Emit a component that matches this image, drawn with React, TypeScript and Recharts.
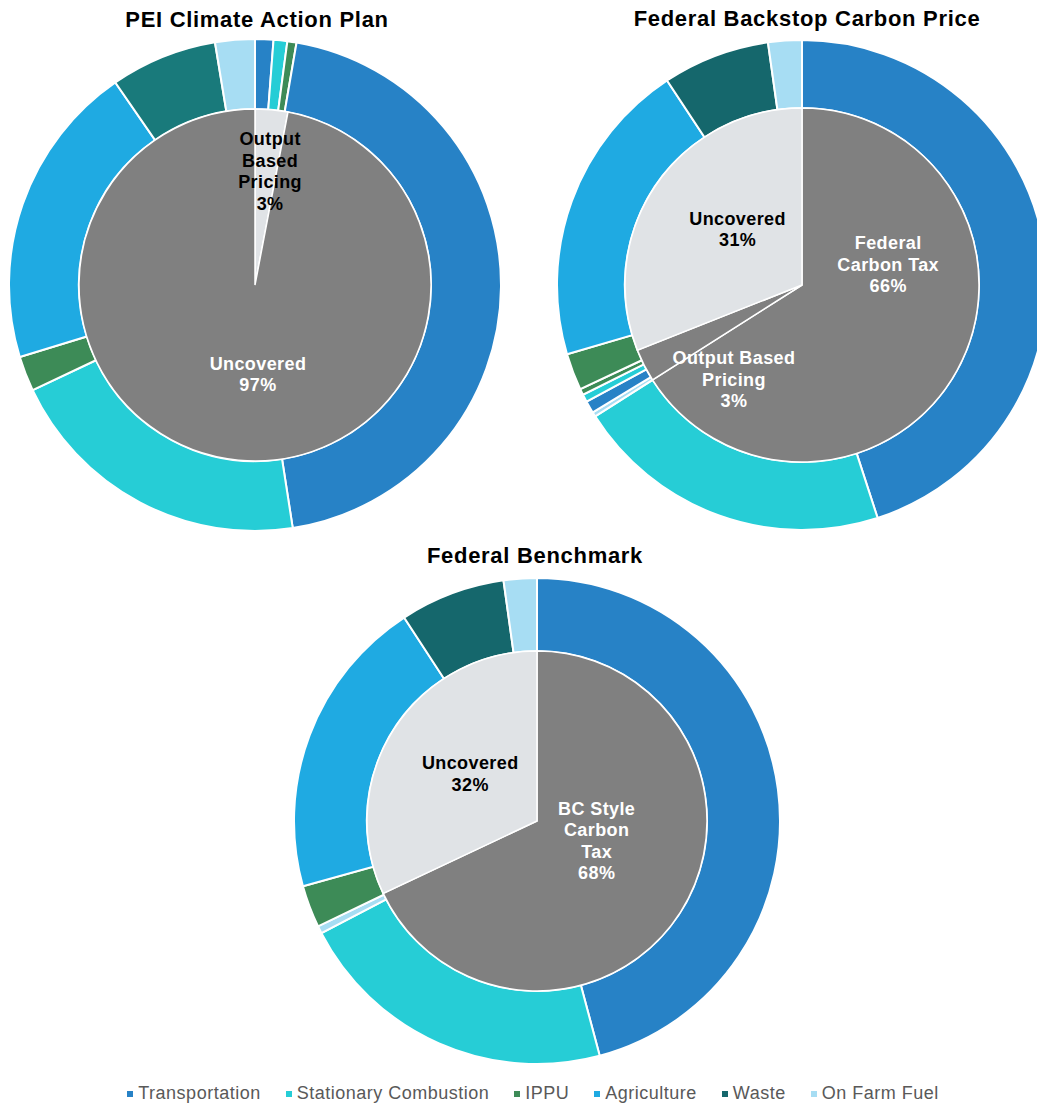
import React from 'react';
import { PieChart, Pie, Cell, Legend } from 'recharts';

const SECTORS = ['Transportation', 'Stationary Combustion', 'IPPU', 'Agriculture', 'Waste', 'On Farm Fuel'];
const SECTOR_COLORS = ['#2782C6', '#26CDD6', '#3D8B57', '#1FAAE2', '#15676C', '#A7DDF3'];

// PEI Climate Action Plan
const PEI_COVERAGE = ['Output Based Pricing', 'Uncovered'];
const PEI_COVERAGE_PCT = [3, 97];
const PEI_LABEL_LINES = [['Output', 'Based', 'Pricing'], ['Uncovered']];
const PEI_RING_SECTORS = ['Transportation', 'Stationary Combustion', 'IPPU', 'Transportation', 'Stationary Combustion', 'IPPU', 'Agriculture', 'Waste', 'On Farm Fuel'];
const PEI_RING_VALUES = [1.2, 0.9, 0.6, 44.8, 20.4, 2.3, 20.1, 7.0, 2.6];

// Federal Backstop Carbon Price
const FBCP_COVERAGE = ['Federal Carbon Tax', 'Output Based Pricing', 'Uncovered'];
const FBCP_COVERAGE_PCT = [66, 3, 31];
const FBCP_LABEL_LINES = [['Federal', 'Carbon Tax'], ['Output Based', 'Pricing'], ['Uncovered']];
const FBCP_RING_SECTORS = ['Transportation', 'Stationary Combustion', 'On Farm Fuel', 'Transportation', 'Stationary Combustion', 'IPPU', 'IPPU', 'Agriculture', 'Waste', 'On Farm Fuel'];
const FBCP_RING_VALUES = [44.6, 20.8, 0.3, 0.8, 0.5, 0.4, 2.4, 20.1, 7.0, 2.2];

// Federal Benchmark
const FB_COVERAGE = ['BC Style Carbon Tax', 'Uncovered'];
const FB_COVERAGE_PCT = [68, 32];
const FB_LABEL_LINES = [['BC Style', 'Carbon', 'Tax'], ['Uncovered']];
const FB_RING_SECTORS = ['Transportation', 'Stationary Combustion', 'On Farm Fuel', 'IPPU', 'Agriculture', 'Waste', 'On Farm Fuel'];
const FB_RING_VALUES = [45.8, 21.5, 0.5, 2.8, 20.1, 7.0, 2.2];

const DARK = '#808080';
const LIGHT = '#E0E3E6';
const FONT = '"Liberation Sans", Arial, sans-serif';

// label spot: fraction of pie radius, and turn (deg) from the slice middle
const PEI_LABEL_POS = [{ r: 0.65, turn: -2.2 }, { r: 0.51, turn: 7.3 }];
const FBCP_LABEL_POS = [{ r: 0.5, turn: 41.9 }, { r: 0.66, turn: 27.4 }, { r: 0.48, turn: -6.5 }];
const FB_LABEL_POS = [{ r: 0.37, turn: 14 }, { r: 0.48, turn: -2.7 }];

const makeLabel = (lines: string[][], pos: { r: number; turn: number }[], fills: string[]) => (props: any) => {
  const { cx, cy, midAngle, outerRadius, index, value } = props;
  const p = pos[index];
  const a = ((midAngle + p.turn) * Math.PI) / 180;
  const x = cx + outerRadius * p.r * Math.cos(a);
  const y = cy - outerRadius * p.r * Math.sin(a);
  const rows = [...lines[index], `${value}%`];
  const lh = 21.5;
  const y0 = y - ((rows.length - 1) * lh) / 2;
  return (
    <text
      x={x}
      y={y0}
      textAnchor="middle"
      dominantBaseline="central"
      fill={fills[index] === DARK ? '#fff' : '#000'}
      fontSize={18}
      fontWeight={700}
      letterSpacing={0.4}
      fontFamily={FONT}
    >
      {rows.map((t, i) => (
        <tspan key={i} x={x} y={y0 + i * lh}>
          {t}
        </tspan>
      ))}
    </text>
  );
};

interface DonutProps {
  left: number;
  top: number;
  width: number;
  height: number;
  cx: number;
  cy: number;
  pieR: number;
  ringR: number;
  coverage: string[];
  coveragePct: number[];
  coverageFill: string[];
  labelLines: string[][];
  labelPos: { r: number; turn: number }[];
  ringSectors: string[];
  ringValues: number[];
  sectorColors?: string[];
  legend?: boolean;
}

const Donut: React.FC<DonutProps> = (p) => {
  const colors = p.sectorColors || SECTOR_COLORS;
  const inner = p.coverage.map((name, i) => ({ name, value: p.coveragePct[i] }));
  const ring = p.ringSectors.map((name, i) => ({ name, value: p.ringValues[i] }));
  return (
    <div style={{ position: 'absolute', left: p.left, top: p.top }}>
      <PieChart width={p.width} height={p.height} margin={{ top: 0, right: 0, bottom: 0, left: 0 }}>
        <Pie
          data={ring}
          dataKey="value"
          cx={p.cx}
          cy={p.cy}
          startAngle={90}
          endAngle={-270}
          innerRadius={p.pieR}
          outerRadius={p.ringR}
          stroke="#fff"
          strokeWidth={2}
          isAnimationActive={false}
        >
          {ring.map((d, i) => (
            <Cell key={i} fill={colors[SECTORS.indexOf(d.name)]} />
          ))}
        </Pie>
        <Pie
          data={inner}
          dataKey="value"
          cx={p.cx}
          cy={p.cy}
          startAngle={90}
          endAngle={-270}
          outerRadius={p.pieR}
          stroke="#fff"
          strokeWidth={1.5}
          labelLine={false}
          label={makeLabel(p.labelLines, p.labelPos, p.coverageFill)}
          isAnimationActive={false}
        >
          {inner.map((d, i) => (
            <Cell key={i} fill={p.coverageFill[i]} />
          ))}
        </Pie>
        {p.legend && (
          <Legend
            verticalAlign="bottom"
            align="center"
            wrapperStyle={{ left: 0, width: p.width, bottom: 0 }}
            content={() => (
              <div
                style={{
                  display: 'flex',
                  justifyContent: 'center',
                  gap: 25,
                  fontFamily: FONT,
                  fontSize: 18,
                  letterSpacing: 0.5,
                  color: '#595959',
                  paddingLeft: 29,
                }}
              >
                {SECTORS.map((s, i) => (
                  <div key={s} style={{ display: 'flex', alignItems: 'center' }}>
                    <span style={{ width: 6, height: 6, background: SECTOR_COLORS[i], marginRight: 5, display: 'inline-block' }} />
                    <span>{s}</span>
                  </div>
                ))}
              </div>
            )}
          />
        )}
      </PieChart>
    </div>
  );
};

const Title: React.FC<{ x: number; y: number; text: string }> = ({ x, y, text }) => (
  <div
    style={{
      position: 'absolute',
      left: x - 250,
      top: y - 13,
      width: 500,
      lineHeight: '26px',
      textAlign: 'center',
      fontFamily: FONT,
      fontWeight: 700,
      fontSize: 22,
      letterSpacing: 0.7,
      color: '#000',
    }}
  >
    {text}
  </div>
);

export default function App() {
  return (
    <div style={{ position: 'absolute', left: 0, top: 0, width: 1037, height: 1104, overflow: 'hidden', background: '#fff' }}>
      <Donut
        left={0}
        top={0}
        width={520}
        height={540}
        cx={255}
        cy={285}
        pieR={176}
        ringR={246}
        coverage={PEI_COVERAGE}
        coveragePct={PEI_COVERAGE_PCT}
        coverageFill={[LIGHT, DARK]}
        labelLines={PEI_LABEL_LINES}
        labelPos={PEI_LABEL_POS}
        ringSectors={PEI_RING_SECTORS}
        ringValues={PEI_RING_VALUES}
        sectorColors={['#2782C6', '#26CDD6', '#3D8B57', '#1FAAE2', '#197A7B', '#A7DDF3']}
      />
      <Donut
        left={547}
        top={0}
        width={560}
        height={540}
        cx={255}
        cy={285}
        pieR={177}
        ringR={245}
        coverage={FBCP_COVERAGE}
        coveragePct={FBCP_COVERAGE_PCT}
        coverageFill={[DARK, DARK, LIGHT]}
        labelLines={FBCP_LABEL_LINES}
        labelPos={FBCP_LABEL_POS}
        ringSectors={FBCP_RING_SECTORS}
        ringValues={FBCP_RING_VALUES}
      />
      <Donut
        left={0}
        top={544}
        width={1037}
        height={560}
        cx={537}
        cy={277}
        pieR={170}
        ringR={243}
        coverage={FB_COVERAGE}
        coveragePct={FB_COVERAGE_PCT}
        coverageFill={[DARK, LIGHT]}
        labelLines={FB_LABEL_LINES}
        labelPos={FB_LABEL_POS}
        ringSectors={FB_RING_SECTORS}
        ringValues={FB_RING_VALUES}
        legend
      />
      <Title x={257} y={20} text="PEI Climate Action Plan" />
      <Title x={807} y={19} text="Federal Backstop Carbon Price" />
      <Title x={535} y={556} text="Federal Benchmark" />
    </div>
  );
}
